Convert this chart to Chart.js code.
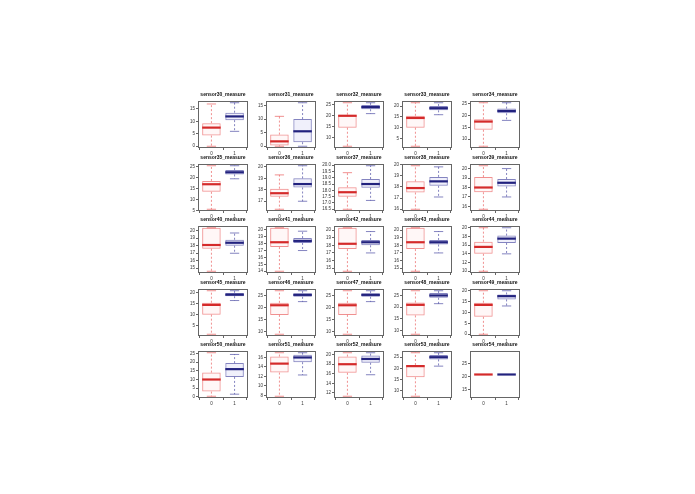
<!DOCTYPE html>
<html>
<head>
<meta charset="utf-8">
<script src="https://cdn.jsdelivr.net/npm/chart.js@4.4.0/dist/chart.umd.min.js"></script>
<style>
  body { margin: 0; background: #fff; width: 695px; height: 494px; position: relative; overflow: hidden; }
  canvas.panel { position: absolute; }
</style>
</head>
<body>
<script>
/* one small boxplot per sensor, red = group 0, blue = group 1 */
const sensors = [
  'sensor30_measure','sensor31_measure','sensor32_measure','sensor33_measure','sensor34_measure',
  'sensor35_measure','sensor36_measure','sensor37_measure','sensor38_measure','sensor39_measure',
  'sensor40_measure','sensor41_measure','sensor42_measure','sensor43_measure','sensor44_measure',
  'sensor45_measure','sensor46_measure','sensor47_measure','sensor48_measure','sensor49_measure',
  'sensor50_measure','sensor51_measure','sensor52_measure','sensor53_measure','sensor54_measure'
];
const groups = ['0', '1'];

// [lower whisker, q1, median, q3, upper whisker]
const redStats = [
  [0, 4.3, 7.5, 9.3, 17],
  [0, 0.3, 1.8, 4.3, 11],
  [6, 14.5, 20, 20.5, 26],
  [1.5, 10, 14.5, 15.5, 21.5],
  [7, 14, 17.5, 18.5, 25.5],
  [5.5, 13.5, 17, 18.5, 25.5],
  [16.3, 17.4, 17.7, 18.1, 19.3],
  [16.5, 17.5, 17.85, 18.25, 19.4],
  [16, 17.5, 17.9, 18.5, 19.9],
  [15.7, 17.5, 18, 19.1, 20.3],
  [14.6, 17.6, 18.1, 20.4, 20.4],
  [14, 17.5, 18.2, 20.3, 20.3],
  [14.6, 17.5, 18.2, 20.3, 20.3],
  [14.6, 17.5, 18.4, 20.3, 20.3],
  [10, 14, 15.6, 16.8, 20],
  [1, 10, 14.5, 15.5, 21],
  [9, 17, 21, 22, 27],
  [9, 17, 21, 22, 27],
  [8.5, 16.5, 21, 22, 27],
  [0, 8, 13.5, 14.5, 20],
  [0.3, 3, 10, 14, 25.5],
  [7.8, 12.8, 14.7, 16.2, 17],
  [11.3, 16.2, 18, 19.6, 20.4],
  [7.5, 16, 21, 21.5, 27],
  [20.8, 20.8, 20.8, 20.8, 20.8]
];
const blueStats = [
  [6, 10.5, 12, 13.5, 17.5],
  [0, 1.5, 5.5, 10, 16],
  [21, 23, 24, 25, 26],
  [16, 18, 19, 20, 21.5],
  [18, 21, 22, 23, 25.5],
  [19.5, 21.5, 22.5, 23.5, 25.5],
  [17, 18.2, 18.5, 19, 20.1],
  [17.2, 18.2, 18.5, 18.9, 19.95],
  [17.1, 18.1, 18.5, 18.9, 19.8],
  [17, 18.1, 18.5, 18.9, 20],
  [17, 18, 18.4, 18.8, 19.7],
  [17, 18.1, 18.4, 18.8, 19.8],
  [17, 18, 18.4, 18.7, 19.8],
  [17, 18.1, 18.4, 18.7, 19.8],
  [14, 16.5, 17.5, 18.2, 20],
  [16.5, 18.5, 19.2, 20, 21],
  [22.5, 24.5, 25.3, 26, 27],
  [22.5, 24.5, 25.3, 26, 27],
  [21.5, 24, 25, 26, 27],
  [13, 16, 17.5, 18.3, 20],
  [1.5, 11.5, 16, 19.5, 24.5],
  [12.3, 15, 16, 16.6, 17],
  [15.8, 18.3, 19.1, 19.8, 20.4],
  [21, 24, 25, 26, 27],
  [20.8, 20.8, 20.8, 20.8, 20.8]
];
const yTicks = [
  [0,5,10,15], [0,5,10,15], [10,15,20,25], [5,10,15,20], [10,15,20,25],
  [5,10,15,20,25], [17,18,19,20], [16.5,17,17.5,18,18.5,19,19.5,20], [16,17,18,19,20], [16,17,18,19,20],
  [15,16,17,18,19,20], [14,15,16,17,18,19,20], [15,16,17,18,19,20], [15,16,17,18,19,20], [10,12,14,16,18,20],
  [5,10,15,20], [10,15,20,25], [10,15,20,25], [10,15,20,25], [0,5,10,15,20],
  [0,5,10,15,20,25], [8,10,12,14,16], [12,14,16,18,20], [10,15,20,25], [15,20,25]
];

const redLine = 'rgba(230,70,70,0.6)', redMed = '#d42a2a', redFill = 'rgba(255,200,200,0.15)';
const blueLine = 'rgba(50,50,150,0.6)', blueMed = '#22227e', blueFill = 'rgba(180,180,235,0.2)';
const frameColor = '#666';

// whiskers, caps, medians and the frame, all placed with the chart's scales
const boxPlugin = {
  id: 'boxExtras',
  afterDatasetsDraw(chart) {
    const ctx = chart.ctx, xs = chart.scales.x, ys = chart.scales.y;
    const stats = chart.options.plugins.boxExtras.stats;
    stats.forEach((s, i) => {
      const cx = xs.getPixelForValue(i + 1);
      const half = xs.getPixelForValue(i + 1.4) - cx;
      const line = i === 0 ? redLine : blueLine;
      const med = i === 0 ? redMed : blueMed;
      ctx.save();
      ctx.strokeStyle = line;
      ctx.lineWidth = 1;
      ctx.setLineDash([2, 2]);
      ctx.beginPath();
      ctx.moveTo(cx, ys.getPixelForValue(s[3])); ctx.lineTo(cx, ys.getPixelForValue(s[4]));
      ctx.moveTo(cx, ys.getPixelForValue(s[1])); ctx.lineTo(cx, ys.getPixelForValue(s[0]));
      ctx.stroke();
      ctx.setLineDash([]);
      ctx.beginPath();
      [s[0], s[4]].forEach(v => {
        const y = ys.getPixelForValue(v);
        ctx.moveTo(cx - half / 2, y); ctx.lineTo(cx + half / 2, y);
      });
      if (s[0] !== s[4]) ctx.stroke();
      ctx.strokeStyle = med;
      ctx.lineWidth = 2.2;
      ctx.beginPath();
      const my = ys.getPixelForValue(s[2]);
      ctx.moveTo(cx - half, my); ctx.lineTo(cx + half, my);
      ctx.stroke();
      ctx.restore();
    });
    const a = chart.chartArea;
    ctx.save();
    ctx.strokeStyle = frameColor;
    ctx.lineWidth = 1;
    ctx.strokeRect(Math.round(a.left) + 0.5, Math.round(a.top) + 0.5, Math.round(a.right - a.left) - 1, Math.round(a.bottom - a.top) - 1);
    ctx.restore();
  }
};

const boxW = 50, boxH = 47, yAxisW = 16, titleH = 10, xAxisH = 8;

sensors.forEach((name, k) => {
  const col = k % 5, row = Math.floor(k / 5);
  const boxLeft = 198 + 68 * col, boxTop = Math.round(101 + 62.5 * row);
  const cv = document.createElement('canvas');
  cv.className = 'panel';
  cv.width = yAxisW + boxW + 1;
  cv.height = titleH + boxH + xAxisH;
  cv.style.left = (boxLeft - yAxisW) + 'px';
  cv.style.top = (boxTop - titleH) + 'px';
  document.body.appendChild(cv);

  const r = redStats[k], b = blueStats[k];
  let lo = Math.min(r[0], b[0]), hi = Math.max(r[4], b[4]);
  if (hi === lo) { const d = 0.4 * Math.abs(lo); lo -= d; hi += d; }
  const pad = 0.04 * (hi - lo);
  const ticks = yTicks[k];
  const dec = ticks.some(v => v % 1 !== 0) ? 1 : 0;

  new Chart(cv, {
    type: 'bar',
    data: {
      datasets: [{
        data: [{ x: 1, y: [r[1], r[3]] }, { x: 2, y: [b[1], b[3]] }],
        backgroundColor: [redFill, blueFill],
        borderColor: [redLine, blueLine],
        borderWidth: 1,
        borderSkipped: false,
        barPercentage: 0.8,
        categoryPercentage: 1
      }]
    },
    options: {
      responsive: false,
      animation: false,
      events: [],
      layout: { padding: { left: 0, right: 1, top: 0, bottom: 0 } },
      plugins: {
        legend: { display: false },
        tooltip: { enabled: false },
        title: {
          display: true, text: name, fullSize: false, color: '#111',
          font: { family: 'Liberation Sans', size: 5, weight: 'bold' },
          padding: { top: 1, bottom: 3 }
        },
        boxExtras: { stats: [r, b] }
      },
      scales: {
        x: {
          type: 'linear', min: 0.42, max: 2.58, offset: false,
          afterBuildTicks: s => { s.ticks = [{ value: 1 }, { value: 2 }]; },
          afterFit: s => { s.height = xAxisH; },
          ticks: { color: '#333', padding: 1, font: { family: 'Liberation Sans', size: 4.5 },
                   callback: v => groups[v - 1] },
          grid: { drawOnChartArea: false, tickLength: 2, color: frameColor },
          border: { display: false }
        },
        y: {
          min: lo - pad, max: hi + pad,
          afterBuildTicks: s => { s.ticks = ticks.map(v => ({ value: v })); },
          afterFit: s => { s.width = yAxisW; },
          ticks: { color: '#333', padding: 1, autoSkip: false, font: { family: 'Liberation Sans', size: 4.5 },
                   callback: v => Number(v).toFixed(dec) },
          grid: { drawOnChartArea: false, tickLength: 2, color: frameColor },
          border: { display: false }
        }
      }
    },
    plugins: [boxPlugin]
  });
});
</script>
</body>
</html>
